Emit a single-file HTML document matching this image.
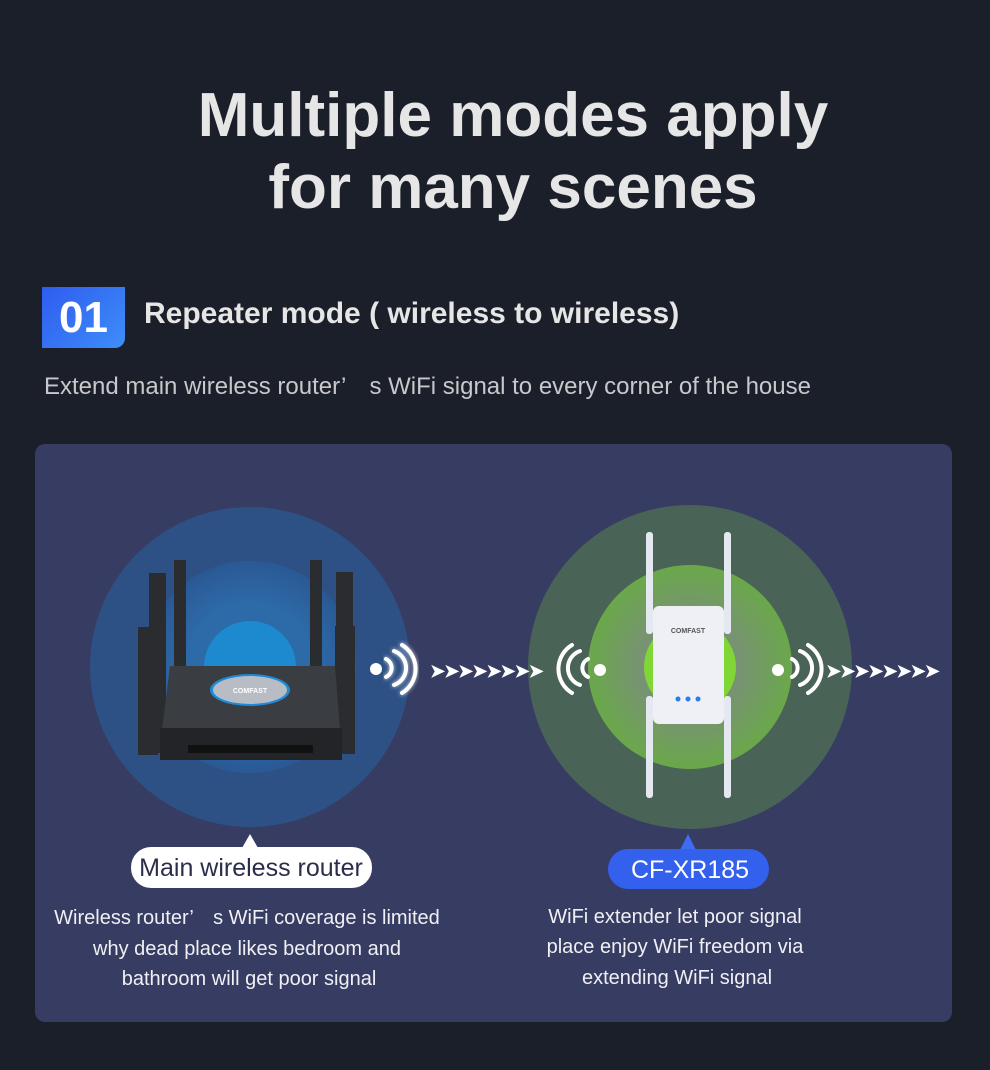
<!DOCTYPE html>
<html><head><meta charset="utf-8"><style>
body{margin:0;background:#1b1f29;width:990px;height:1070px;overflow:hidden;font-family:"Liberation Sans",sans-serif;position:relative}
.t{position:absolute;left:0;width:1026px;text-align:center;color:#e6e6e6;font-weight:bold;font-size:62px;}
</style></head><body>
<div class="t" style="top:80px">Multiple modes apply</div>
<div class="t" style="top:152px">for many scenes</div>
<div style="position:absolute;left:42px;top:287px;width:83px;height:61px;background:linear-gradient(135deg,#2f5cf0,#3d8ef8);border-radius:0 0 10px 0;color:#fff;font-weight:bold;font-size:44px;text-align:center;line-height:61px">01</div>
<div style="position:absolute;left:144px;top:297px;color:#e6e6e6;font-weight:bold;font-size:30px">Repeater mode ( wireless to wireless)</div>
<div style="position:absolute;left:44px;top:366px;color:#c8c8cc;font-size:24px">Extend main wireless router’　s WiFi signal to every corner of the house</div>
<div style="position:absolute;left:35px;top:444px;width:917px;height:578px;background:#363c62;border-radius:10px"></div>
<svg style="position:absolute;left:0;top:0" width="990" height="1070">
<defs>
<radialGradient id="b1"><stop offset="0.6" stop-color="#2d6aa8"/><stop offset="1" stop-color="#2a5994"/></radialGradient>
<radialGradient id="g2"><stop offset="0.4" stop-color="#7a8f7a"/><stop offset="1" stop-color="#6aa84a"/></radialGradient>
<filter id="gl"><feGaussianBlur stdDeviation="2"/></filter>
</defs>
<circle cx="250" cy="667" r="160" fill="#2e5185"/>
<circle cx="250" cy="667" r="106" fill="url(#b1)"/>
<circle cx="250" cy="667" r="46" fill="#1d8ad0"/>
<circle cx="690" cy="667" r="162" fill="#4a6357"/>
<circle cx="690" cy="667" r="102" fill="url(#g2)"/>
<circle cx="690" cy="667" r="46" fill="#80d634"/>
<!-- router -->
<g fill="#2a2c30">
<rect x="149" y="573" width="17" height="180"/><rect x="138" y="627" width="20" height="128"/>
<rect x="174" y="560" width="12" height="110"/><rect x="310" y="560" width="12" height="110"/>
<rect x="336" y="572" width="17" height="182"/><rect x="335" y="626" width="20" height="128"/>
</g>
<polygon points="170,666 335,666 340,730 162,730" fill="#3a3d42"/>
<rect x="160" y="728" width="182" height="32" fill="#222428"/>
<rect x="188" y="745" width="125" height="8" fill="#111"/>
<ellipse cx="250" cy="690" rx="40" ry="16" fill="#1e8ad8"/>
<ellipse cx="250" cy="690" rx="37" ry="14" fill="#b8bcc4"/>
<text x="250" y="693" font-size="7" font-weight="bold" fill="#fff" text-anchor="middle">COMFAST</text>
<!-- extender -->
<g fill="#e4e8f0"><rect x="646" y="532" width="7" height="102" rx="3"/><rect x="724" y="532" width="7" height="102" rx="3"/>
<rect x="646" y="696" width="7" height="102" rx="3"/><rect x="724" y="696" width="7" height="102" rx="3"/></g>
<rect x="653" y="606" width="71" height="118" rx="6" fill="#eef0f6"/>
<text x="688" y="633" font-size="7" font-weight="bold" fill="#555" text-anchor="middle">COMFAST</text>
<g fill="#2a7af0"><circle cx="678" cy="699" r="2.5"/><circle cx="688" cy="699" r="2.5"/><circle cx="698" cy="699" r="2.5"/></g>
<!-- wifi signals -->
<g stroke="#fff" stroke-width="4" fill="none" stroke-linecap="round">
<g filter="url(#gl)" opacity="0.8"><path d="M386,659 a10,10 0 0 1 0,18"/><path d="M394,651 a18,18 0 0 1 0,34"/><path d="M402,645 a28,28 0 0 1 0,48"/></g>
<path d="M386,659 a10,10 0 0 1 0,18"/><path d="M394,651 a18,18 0 0 1 0,34"/><path d="M402,645 a28,28 0 0 1 0,48"/>
<path d="M588,659 a10,10 0 0 0 0,18"/><path d="M580,651 a18,18 0 0 0 0,34"/><path d="M572,645 a28,28 0 0 0 0,48"/>
<path d="M792,659 a10,10 0 0 1 0,18"/><path d="M800,651 a18,18 0 0 1 0,34"/><path d="M808,645 a28,28 0 0 1 0,48"/>
</g>
<g fill="#fff"><circle cx="376" cy="669" r="6"/><circle cx="600" cy="670" r="6"/><circle cx="778" cy="670" r="6"/></g>
<g fill="#fff">
<text x="430" y="677" font-size="18" font-weight="bold" letter-spacing="-1">➤➤➤➤➤➤➤➤</text>
<text x="826" y="677" font-size="18" font-weight="bold" letter-spacing="-1">➤➤➤➤➤➤➤➤</text>
</g>
<!-- labels -->
<polygon points="250,834 242,848 258,848" fill="#fff"/>
<rect x="131" y="847" width="241" height="41" rx="20" fill="#fff"/>
<text x="251" y="876" font-size="25" fill="#2a2e4a" text-anchor="middle">Main wireless router</text>
<polygon points="688,834 680,850 696,850" fill="#3f6cf0"/>
<rect x="608" y="849" width="161" height="40" rx="20" fill="#3460ee"/>
<text x="690" y="878" font-size="25" fill="#fff" text-anchor="middle">CF-XR185</text>
<g fill="#f0f0f4" font-size="20" text-anchor="middle">
<text x="247" y="924">Wireless router’　s WiFi coverage is limited</text>
<text x="247" y="955">why dead place likes bedroom and</text>
<text x="249" y="985">bathroom will get poor signal</text>
<text x="675" y="923">WiFi extender let poor signal</text>
<text x="675" y="953">place enjoy WiFi freedom via</text>
<text x="677" y="984">extending WiFi signal</text>
</g>
</svg>
</body></html>
